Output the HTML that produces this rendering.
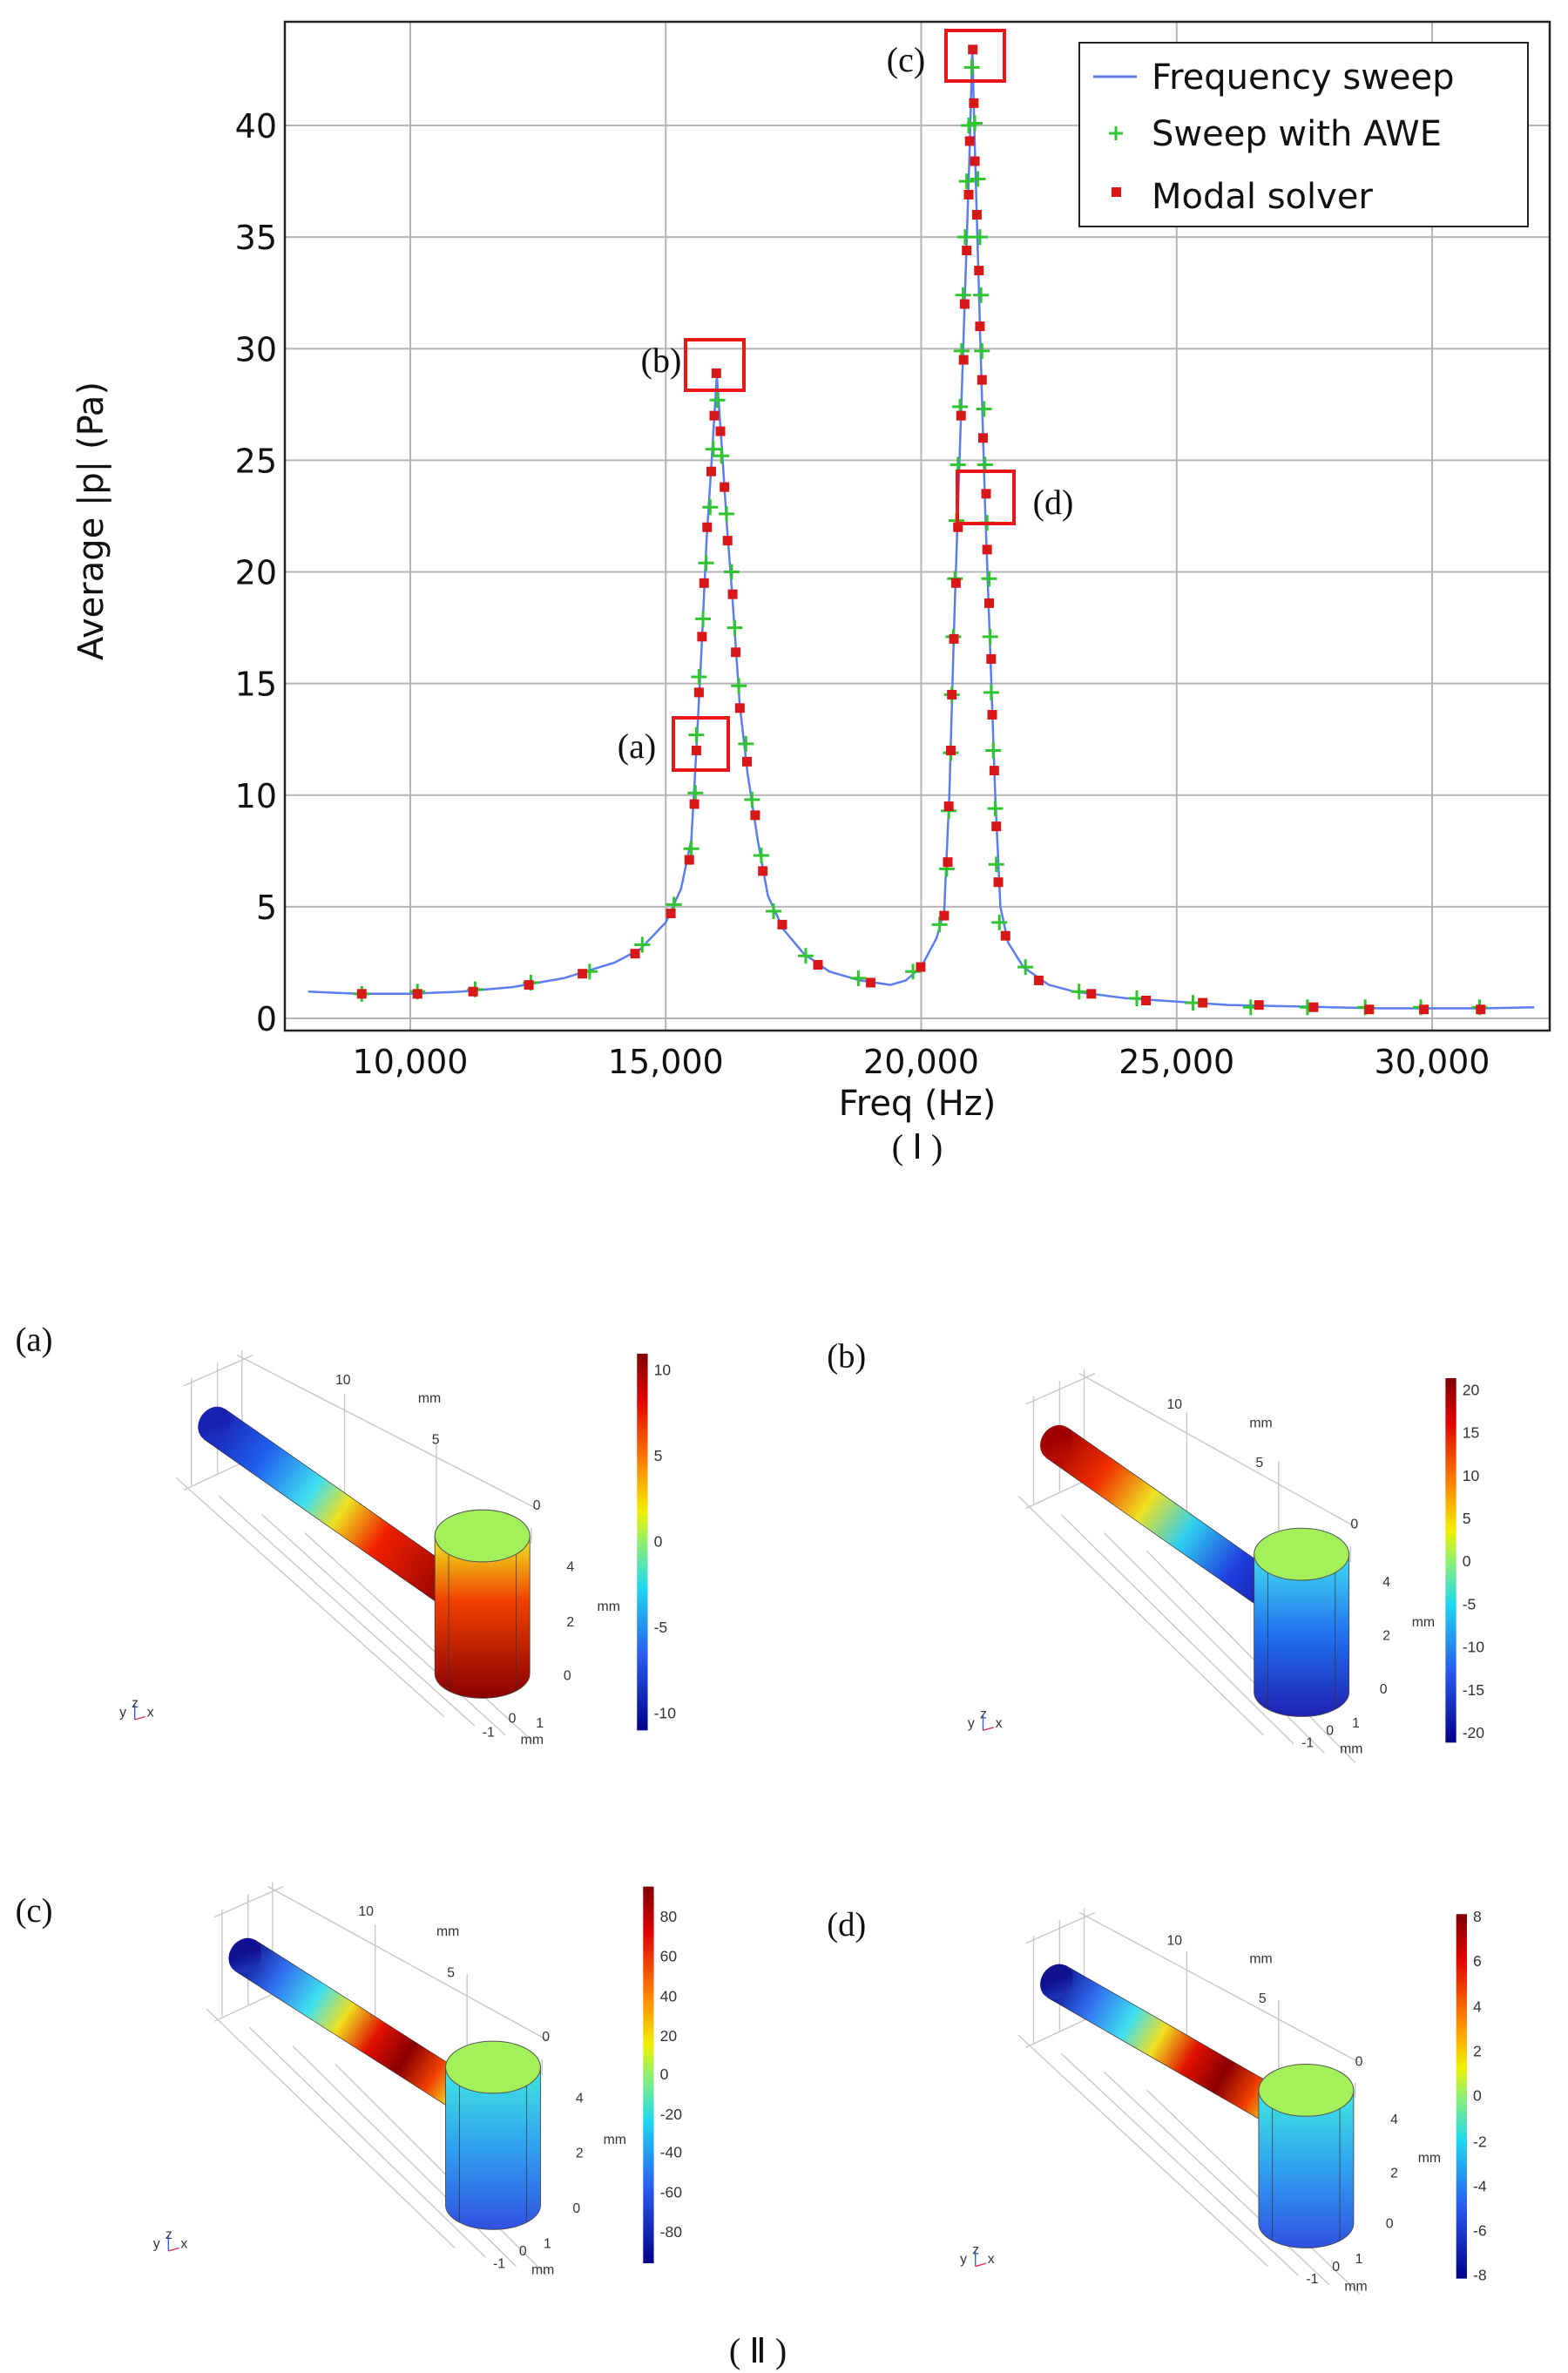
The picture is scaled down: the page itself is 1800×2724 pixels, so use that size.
<!DOCTYPE html>
<html><head><meta charset="utf-8">
<style>
html,body{margin:0;padding:0;background:#fff;}
svg{display:block;}
.tk{font-family:"DejaVu Sans","Liberation Sans",sans-serif;font-size:38px;fill:#111;}
.sf{font-family:"Liberation Serif",serif;fill:#111;}
.sm{font-family:"Liberation Sans",sans-serif;font-size:9px;fill:#333;}
</style></head>
<body>
<svg id="root" width="1800" height="2724" viewBox="0 0 1800 2724" xmlns="http://www.w3.org/2000/svg">
<defs>
<linearGradient id="jet" x1="0" y1="0" x2="0" y2="1">
<stop offset="0" stop-color="#7f0000"/><stop offset="0.12" stop-color="#e00000"/><stop offset="0.3" stop-color="#ff8c00"/><stop offset="0.42" stop-color="#f0f000"/><stop offset="0.5" stop-color="#90f070"/><stop offset="0.62" stop-color="#20d8f0"/><stop offset="0.8" stop-color="#2a5cf0"/><stop offset="1" stop-color="#00008a"/>
</linearGradient>
<linearGradient id="pa" gradientUnits="userSpaceOnUse" x1="140" y1="930" x2="300" y2="1040"><stop offset="0" stop-color="#1a20b0"/><stop offset="0.2" stop-color="#2060f0"/><stop offset="0.4" stop-color="#40e0f0"/><stop offset="0.52" stop-color="#f0e020"/><stop offset="0.68" stop-color="#f02000"/><stop offset="1" stop-color="#8a0000"/></linearGradient>
<linearGradient id="ca" x1="0" y1="0" x2="0" y2="1"><stop offset="0" stop-color="#f0f020"/><stop offset="0.4" stop-color="#f04000"/><stop offset="1" stop-color="#8a0000"/></linearGradient>
<linearGradient id="pb" gradientUnits="userSpaceOnUse" x1="690" y1="940" x2="845" y2="1050"><stop offset="0" stop-color="#a00000"/><stop offset="0.2" stop-color="#f03000"/><stop offset="0.38" stop-color="#f0e020"/><stop offset="0.55" stop-color="#30d0f0"/><stop offset="0.75" stop-color="#2040e0"/><stop offset="1" stop-color="#101090"/></linearGradient>
<linearGradient id="cb" x1="0" y1="0" x2="0" y2="1"><stop offset="0" stop-color="#40e0f0"/><stop offset="0.5" stop-color="#2070f0"/><stop offset="1" stop-color="#2020b0"/></linearGradient>
<linearGradient id="pc" gradientUnits="userSpaceOnUse" x1="160" y1="1275" x2="315" y2="1375"><stop offset="0" stop-color="#101090"/><stop offset="0.15" stop-color="#3070f0"/><stop offset="0.3" stop-color="#40e0f0"/><stop offset="0.42" stop-color="#f0e020"/><stop offset="0.55" stop-color="#e01000"/><stop offset="0.68" stop-color="#8a0000"/><stop offset="0.8" stop-color="#f04000"/><stop offset="0.9" stop-color="#f0e020"/><stop offset="1" stop-color="#40e0f0"/></linearGradient>
<linearGradient id="cc" x1="0" y1="0" x2="0" y2="1"><stop offset="0" stop-color="#40e8e0"/><stop offset="0.5" stop-color="#30a0f0"/><stop offset="1" stop-color="#3050e0"/></linearGradient>
<linearGradient id="pd" gradientUnits="userSpaceOnUse" x1="690" y1="1292" x2="850" y2="1385"><stop offset="0" stop-color="#101090"/><stop offset="0.15" stop-color="#3070f0"/><stop offset="0.3" stop-color="#40e0f0"/><stop offset="0.42" stop-color="#f0e020"/><stop offset="0.55" stop-color="#e01000"/><stop offset="0.68" stop-color="#8a0000"/><stop offset="0.8" stop-color="#f04000"/><stop offset="0.9" stop-color="#f0e020"/><stop offset="1" stop-color="#60e8c0"/></linearGradient>
</defs>
<g id="chart"></g>
<g id="panels" transform="scale(1.7578)"></g>
</svg>
<script>
// ---- chart data ----
const sweepFreq = [8000,9000,10000,11000,12000,13000,14000,14500,15000,15300,15500,15600,15700,15800,15900,16000,16100,16200,16300,16450,16600,16800,17000,17300,17700,18200,18800,19400,19700,20000,20300,20450,20550,20650,20750,20850,20950,21000,21050,21150,21250,21350,21450,21550,21700,22000,22500,23000,24000,25000,26000,27000,28000,29000,30000,31000,32000];
const sweepVal = [1.2,1.1,1.1,1.2,1.4,1.8,2.5,3.1,4.3,5.8,8,12,16.5,21.5,25,28.8,25.5,22,19,14,11,8,5.5,4,2.9,2.1,1.7,1.5,1.7,2.3,3.6,4.8,10,18,25,32,39,43.5,39,31,23,16.5,10,5,3.4,2.3,1.5,1.2,0.9,0.75,0.6,0.55,0.5,0.45,0.45,0.45,0.5];
const aweFreq = [9050,10140,11270,12360,13510,14540,15160,15500,15580,15600,15650,15730,15790,15870,15930,16010,16090,16190,16290,16350,16430,16570,16690,16870,17110,17740,18770,19840,20360,20500,20540,20580,20600,20630,20660,20690,20720,20760,20790,20820,20860,20890,20930,20990,21050,21110,21150,21170,21190,21230,21250,21290,21330,21350,21370,21410,21450,21470,21530,22040,23090,24220,25320,26450,27560,28690,29780,30930];
const aweVal = [1.1,1.2,1.3,1.6,2.1,3.3,5.1,7.6,10.1,12.7,15.3,17.9,20.4,22.9,25.5,27.7,25.2,22.6,20.0,17.5,14.9,12.3,9.8,7.3,4.8,2.8,1.8,2.1,4.2,6.7,9.3,11.9,14.5,17.1,19.7,22.3,24.8,27.4,29.9,32.4,35.0,37.5,40.0,42.6,40.1,37.6,35.0,32.4,29.9,27.3,24.8,22.2,19.7,17.1,14.6,12.0,9.4,6.9,4.3,2.3,1.2,0.9,0.7,0.5,0.5,0.5,0.5,0.5];
const modalFreq = [9050,10140,11230,12320,13370,14400,15100,15460,15560,15600,15650,15710,15750,15810,15890,15950,15990,16070,16150,16210,16310,16370,16450,16590,16750,16900,17280,17980,19010,19990,20450,20520,20540,20580,20600,20640,20680,20720,20780,20830,20850,20890,20930,20950,21010,21030,21050,21090,21130,21150,21190,21210,21270,21290,21330,21370,21390,21430,21470,21510,21650,22300,23330,24400,25510,26610,27680,28770,29840,30950];
const modalVal = [1.1,1.1,1.2,1.5,2.0,2.9,4.7,7.1,9.6,12.0,14.6,17.1,19.5,22.0,24.5,27.0,28.9,26.3,23.8,21.4,19.0,16.4,13.9,11.5,9.1,6.6,4.2,2.4,1.6,2.3,4.6,7.0,9.5,12.0,14.5,17.0,19.5,22.0,27.0,29.5,32.0,34.4,36.9,39.3,43.4,41.0,38.4,36.0,33.5,31.0,28.6,26.0,23.5,21.0,18.6,16.1,13.6,11.1,8.6,6.1,3.7,1.7,1.1,0.8,0.7,0.6,0.5,0.4,0.4,0.4];
const xTicks = [10000,15000,20000,25000,30000];
const xTickLabels = ["10,000","15,000","20,000","25,000","30,000"];
const yTicks = [0,5,10,15,20,25,30,35,40];

const NS="http://www.w3.org/2000/svg";
function mk(parent,tag,attrs,text){const e=document.createElementNS(NS,tag);for(const k in attrs)e.setAttribute(k,attrs[k]);if(text!==undefined)e.textContent=text;parent.appendChild(e);return e;}
const X=f=>471+(f-10000)*0.05865;
const Y=v=>1169-v*25.625;
const ch=document.getElementById('chart');
const L=327,R=1779,T=25,B=1183;
// grid
xTicks.forEach((t,i)=>{
  const g=mk(ch,'line',{x1:X(t),x2:X(t),y1:T,y2:B,stroke:'#b4b4b4','stroke-width':2});
  
  
  const lb=mk(ch,'text',{x:X(t),y:1232,'text-anchor':'middle',class:'tk'},xTickLabels[i]);
  
  
});
yTicks.forEach(t=>{
  const g=mk(ch,'line',{x1:L,x2:R,y1:Y(t),y2:Y(t),stroke:'#b4b4b4','stroke-width':2});
  
  
  const lb=mk(ch,'text',{x:318,y:Y(t)+14,'text-anchor':'end',class:'tk'},String(t));
  
  
});
const fr=mk(ch,'rect',{x:L,y:T,width:R-L,height:B-T,fill:'none',stroke:'#222','stroke-width':2.5});


// line
let d='';sweepFreq.forEach((f,i)=>{d+=(i?'L':'M')+X(f).toFixed(1)+','+Y(sweepVal[i]).toFixed(1);});
const ln=mk(ch,'path',{d:d,fill:'none',stroke:'#5a7ef0','stroke-width':2.5,'stroke-linejoin':'round'});


aweFreq.forEach((f,i)=>{
  const cx=X(f),cy=Y(aweVal[i]);
  const p=mk(ch,'path',{d:`M${cx-9},${cy}H${cx+9}M${cx},${cy-9}V${cy+9}`,stroke:'#2ec52e','stroke-width':3});
  
  
});
modalFreq.forEach((f,i)=>{
  const r=mk(ch,'rect',{x:X(f)-5.5,y:Y(modalVal[i])-5.5,width:11,height:11,fill:'#d81818'});
  
  
});
</script>
<script>
(function(){
const ch=document.getElementById('chart');
const s=`
<text x="118" y="598" transform="rotate(-90 118 598)" text-anchor="middle" class="tk" style="font-size:40px">Average |p| (Pa)</text>
<text x="1053" y="1280" text-anchor="middle" class="tk" style="font-size:40px">Freq (Hz)</text>
<text x="1053" y="1330" text-anchor="middle" class="sf" style="font-size:40px">( Ⅰ )</text>
<g>
<rect x="1239" y="49" width="515" height="211" fill="#fff" stroke="#222" stroke-width="2"/>
<line x1="1255" y1="88" x2="1305" y2="88" stroke="#5a7ef0" stroke-width="3"/>
<text x="1322" y="102" class="tk" style="font-size:40px">Frequency sweep</text>
<path d="M1273,153H1289M1281,145V161" stroke="#2ec52e" stroke-width="3"/>
<text x="1322" y="167" class="tk" style="font-size:40px">Sweep with AWE</text>
<rect x="1276" y="215" width="11" height="11" fill="#d81818"/>
<text x="1322" y="239" class="tk" style="font-size:40px">Modal solver</text>
</g>
<g fill="none" stroke="#e81818" stroke-width="4">
<rect x="1086" y="35" width="67" height="58"/>
<rect x="787" y="390" width="67" height="58"/>
<rect x="773" y="824" width="63" height="60"/>
<rect x="1099" y="541" width="65" height="60"/>
</g>
<g class="sf" style="font-size:40px">
<text x="1040" y="82" text-anchor="middle">(c)</text>
<text x="759" y="427" text-anchor="middle">(b)</text>
<text x="731" y="870" text-anchor="middle">(a)</text>
<text x="1209" y="590" text-anchor="middle">(d)</text>
<text x="870" y="2712" text-anchor="middle">( Ⅱ )</text>
</g>`;
ch.insertAdjacentHTML('beforeend',s);

const P=document.getElementById('panels');
function panel(id,lab,lx,ly,p0,p1,cx,cyT,cyB,pg,cg,cb,cbT,cbB,cbl,ax,tri){
 const [x0,y0]=p0,[x1,y1]=p1;
 const dx=x1-x0,dy=y1-y0,len=Math.hypot(dx,dy),nx=-dy/len*12,ny=dx/len*12;
 let g=`<g>`;
 g+=`<text x="${lx}" y="${ly}" class="sf" style="font-size:22px">${lab}</text>`;
 // grid lines
 g+=`<g stroke="#c8c8c8" stroke-width="0.8" fill="none">`;
 for(let k=0;k<4;k++){g+=`<line x1="${x0-25+k*28}" y1="${y0+35+k*12}" x2="${cx-25+k*20}" y2="${cyB+28+k*6}"/>`;}
 g+=`<line x1="${x0+15}" y1="${y0-45}" x2="${cx+35}" y2="${cyT-18}"/>`;
 g+=`<line x1="${x0-15}" y1="${y0-30}" x2="${x0-15}" y2="${y0+40}"/><line x1="${x0+2}" y1="${y0-40}" x2="${x0+2}" y2="${y0+32}"/><line x1="${x0+18}" y1="${y0-48}" x2="${x0+18}" y2="${y0+25}"/>`;
 g+=`<line x1="${x0-20}" y1="${y0-25}" x2="${x0+25}" y2="${y0-45}"/><line x1="${x0-20}" y1="${y0+43}" x2="${x0+25}" y2="${y0+22}"/>`;
 g+=`<line x1="${x0+85}" y1="${y0-20}" x2="${x0+85}" y2="${y0+55}"/><line x1="${x0+145}" y1="${y0+12}" x2="${x0+145}" y2="${cyT+20}"/><line x1="${cx+32}" y1="${cyT-5}" x2="${cx+32}" y2="${cyT+5}"/>`;
 g+=`</g>`;
 g+=`<polygon points="${x0+nx},${y0+ny} ${x1+nx},${y1+ny} ${x1-nx},${y1-ny} ${x0-nx},${y0-ny}" fill="url(#${pg})" stroke="#333" stroke-width="0.4"/>`;
 g+=`<ellipse cx="${x0}" cy="${y0}" rx="10" ry="12" transform="rotate(35 ${x0} ${y0})" fill="url(#${pg})"/>`;
 g+=`<path d="M${cx-31},${cyT} V${cyB} A31,16 0 0 0 ${cx+31},${cyB} V${cyT} Z" fill="url(#${cg})" stroke="#444" stroke-width="0.5"/>`;
 g+=`<ellipse cx="${cx}" cy="${cyT}" rx="31" ry="17" fill="#a2f05a" stroke="#555" stroke-width="0.6"/>`;
 g+=`<line x1="${cx-22}" y1="${cyT+12}" x2="${cx-22}" y2="${cyB+11}" stroke="#333" stroke-width="0.4"/><line x1="${cx+22}" y1="${cyT+12}" x2="${cx+22}" y2="${cyB+11}" stroke="#333" stroke-width="0.4"/>`;
 g+=`<rect x="${cb}" y="${cbT}" width="7" height="${cbB-cbT}" fill="url(#jet)"/>`;
 cbl.forEach(([t,y])=>{g+=`<text x="${cb+11}" y="${y+3}" class="sm" style="font-size:10px">${t}</text>`;});
 ax.forEach(([t,x,y])=>{g+=`<text x="${x}" y="${y}" class="sm">${t}</text>`;});
 g+=`<text x="${tri[0]}" y="${tri[1]}" class="sm">y</text><text x="${tri[0]+8}" y="${tri[1]-6}" class="sm">z</text><text x="${tri[0]+18}" y="${tri[1]}" class="sm">x</text><path d="M${tri[0]+10},${tri[1]+2}V${tri[1]-8}" stroke="#3060e0" stroke-width="0.8"/><path d="M${tri[0]+10},${tri[1]+2}L${tri[0]+17},${tri[1]}" stroke="#e03060" stroke-width="0.8"/>`;
 g+=`</g>`;
 P.insertAdjacentHTML('beforeend',g);
}
panel('a','(a)',10,882,[140,930],[300,1042],315,1003,1093,'pa','ca',416,884,1130,
 [['10',895],['5',951],['0',1007],['-5',1063],['-10',1119]],
 [['10',219,904],['mm',273,916],['5',282,943],['0',348,986],['4',370,1026],['mm',390,1052],['2',370,1062],['0',368,1097],['1',350,1128],['0',332,1125],['-1',315,1134],['mm',340,1139]],[78,1121]);
panel('b','(b)',540,893,[690,942],[847,1052],850,1015,1105,'pb','cb',944,900,1138,
 [['20',908],['15',936],['10',964],['5',992],['0',1020],['-5',1048],['-10',1076],['-15',1104],['-20',1132]],
 [['10',762,920],['mm',816,932],['5',820,958],['0',882,998],['4',903,1036],['mm',922,1062],['2',903,1071],['0',901,1106],['1',883,1128],['0',866,1133],['-1',850,1141],['mm',875,1145]],[632,1128]);
panel('c','(c)',10,1255,[160,1277],[317,1377],322,1350,1440,'pc','cc',420,1232,1478,
 [['80',1252],['60',1278],['40',1304],['20',1330],['0',1355],['-20',1381],['-40',1406],['-60',1432],['-80',1458]],
 [['10',234,1251],['mm',285,1264],['5',292,1291],['0',354,1333],['4',376,1373],['mm',394,1400],['2',376,1409],['0',374,1445],['1',355,1468],['0',339,1473],['-1',322,1481],['mm',347,1485]],[100,1468]);
panel('d','(d)',540,1264,[690,1294],[852,1387],853,1365,1452,'pd','cc',951,1250,1488,
 [['8',1252],['6',1281],['4',1311],['2',1340],['0',1369],['-2',1399],['-4',1428],['-6',1457],['-8',1486]],
 [['10',762,1270],['mm',816,1282],['5',822,1308],['0',885,1349],['4',908,1387],['mm',926,1412],['2',908,1422],['0',905,1455],['1',885,1478],['0',870,1483],['-1',853,1491],['mm',878,1496]],[627,1478]);
})();
</script>
</body></html>
